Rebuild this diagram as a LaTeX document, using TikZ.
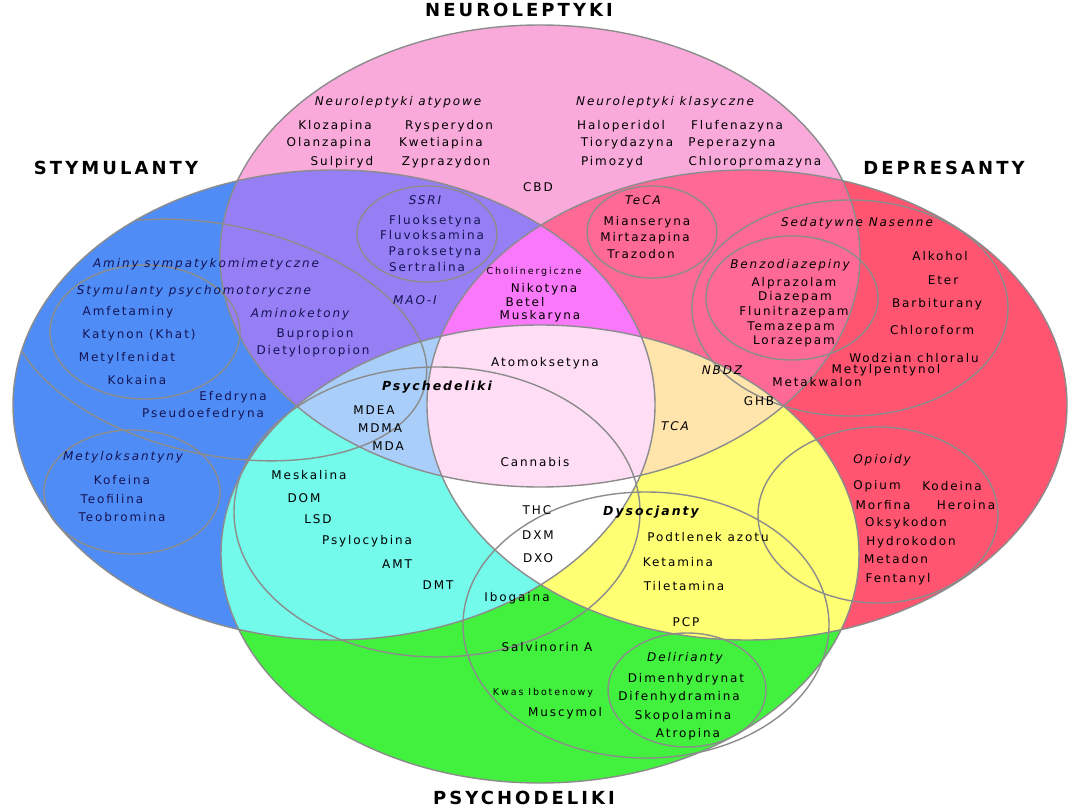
\documentclass[tikz,border=0pt]{standalone}
\usepackage{fontspec}
\setmainfont{DejaVu Sans}[LetterSpace=16]
\newfontfamily\ttlfont{DejaVu Sans}[LetterSpace=17]
\newfontfamily\tinyfont{DejaVu Sans}[LetterSpace=20]
\definecolor{cN}{RGB}{249,170,219}
\definecolor{cS}{RGB}{80,140,245}
\definecolor{cD}{RGB}{255,85,112}
\definecolor{cP}{RGB}{66,240,62}
\definecolor{cNS}{RGB}{150,126,245}
\definecolor{cND}{RGB}{255,105,150}
\definecolor{cSP}{RGB}{115,250,235}
\definecolor{cDP}{RGB}{255,255,115}
\definecolor{cNSD}{RGB}{250,120,250}
\definecolor{cNSP}{RGB}{170,206,250}
\definecolor{cNDP}{RGB}{255,228,172}
\definecolor{cAll}{RGB}{255,222,245}
\definecolor{cLine}{RGB}{140,140,140}
\definecolor{navy}{RGB}{20,20,85}

\begin{document}
\begin{tikzpicture}[x=1pt,y=-1pt,line join=round,line cap=round,
	font=\fontsize{12}{13}\selectfont,
	every node/.style={inner sep=0pt},
	rN/.style={x radius=320pt,y radius=231pt},
	rS/.style={x radius=321pt,y radius=235pt},
	rD/.style={x radius=320pt,y radius=235pt},
	rP/.style={x radius=319pt,y radius=229pt},
	ring/.style={draw=cLine,line width=1.4pt},
	ttl/.style={font=\ttlfont\bfseries\fontsize{18}{19}\selectfont},
	cat/.style={font=\fontsize{12}{13}\selectfont\itshape},
	bcat/.style={font=\fontsize{12.5}{13}\selectfont\bfseries\itshape},
	tiny/.style={font=\tinyfont\fontsize{9.5}{10}\selectfont},
	st/.style={text=navy}]
	\useasboundingbox (0,0) rectangle (1080,810);
	\fill[white] (0,0) rectangle (1080,810);
	\coordinate (N) at (540,256);
	\coordinate (S) at (334,405);
	\coordinate (D) at (747,405);
	\coordinate (P) at (540,554);
	\fill[cN] (N) ellipse[rN];
	\fill[cS] (S) ellipse[rS];
	\fill[cD] (D) ellipse[rD];
	\fill[cP] (P) ellipse[rP];
	\begin{scope}
		\clip (N) ellipse[rN];
		\fill[cNS] (S) ellipse[rS];
		\fill[cND] (D) ellipse[rD];
	\end{scope}
	\begin{scope}
		\clip (P) ellipse[rP];
		\fill[cSP] (S) ellipse[rS];
		\fill[cDP] (D) ellipse[rD];
	\end{scope}
	\begin{scope}
		\clip (N) ellipse[rN];
		\clip (S) ellipse[rS];
		\fill[cNSD] (D) ellipse[rD];
		\fill[cNSP] (P) ellipse[rP];
	\end{scope}
	\begin{scope}
		\clip (N) ellipse[rN];
		\clip (D) ellipse[rD];
		\fill[cNDP] (P) ellipse[rP];
	\end{scope}
	\begin{scope}
		\clip (S) ellipse[rS];
		\clip (D) ellipse[rD];
		\fill[white] (P) ellipse[rP];
	\end{scope}
	\begin{scope}
		\clip (N) ellipse[rN];
		\clip (S) ellipse[rS];
		\clip (D) ellipse[rD];
		\fill[cAll] (P) ellipse[rP];
	\end{scope}
	\draw[ring] (N) ellipse[rN] (S) ellipse[rS] (D) ellipse[rD] (P) ellipse[rP];
	\coordinate (ssri) at (427,234);
	\coordinate (teca) at (652,232);
	\coordinate (sed) at (850,308);
	\coordinate (benzo) at (792,298);
	\coordinate (opio) at (878,515);
	\coordinate (dyso) at (646,625);
	\coordinate (deli) at (687,690);
	\coordinate (psy) at (437,512);
	\coordinate (mety) at (132,492);
	\coordinate (psm) at (145,332);
	\coordinate (amin) at (218,340);
	\draw[ring] (ssri) ellipse[x radius=70pt,y radius=48pt];
	\draw[ring] (teca) ellipse[x radius=65pt,y radius=46pt];
	\draw[ring] (sed) ellipse[x radius=158pt,y radius=108pt];
	\draw[ring] (benzo) ellipse[x radius=86pt,y radius=62pt];
	\draw[ring] (opio) ellipse[x radius=120pt,y radius=88pt];
	\draw[ring] (dyso) ellipse[x radius=183pt,y radius=133pt];
	\draw[ring] (deli) ellipse[x radius=79pt,y radius=57pt];
	\draw[ring] (psy) ellipse[x radius=203pt,y radius=145pt];
	\draw[ring] (mety) ellipse[x radius=88pt,y radius=62pt];
	\draw[ring] (psm) ellipse[x radius=95pt,y radius=67pt];
	\begin{scope}
		\clip (S) ellipse[rS];
		\draw[ring,rotate around={-12:(amin)}] (amin) ellipse[x radius=212pt,y radius=115pt];
	\end{scope}

	\node[ttl] (tN) at (519,10) {NEUROLEPTYKI};
	\node[ttl] (tS) at (116,168) {STYMULANTY};
	\node[ttl] (tD) at (944,168) {DEPRESANTY};
	\node[ttl] (tP) at (524,798) {PSYCHODELIKI};

	\node[cat] (atyp) at (398,102) {Neuroleptyki atypowe};
	\node (klo) at (335,126) {Klozapina};
	\node (ola) at (329,143) {Olanzapina};
	\node (sul) at (342,162) {Sulpiryd};
	\node (rys) at (449,126) {Rysperydon};
	\node (kwe) at (441,143) {Kwetiapina};
	\node (zyp) at (446,162) {Zyprazydon};
	\node[cat] (klas) at (665,102) {Neuroleptyki klasyczne};
	\node (hal) at (621,126) {Haloperidol};
	\node (tio) at (627,143) {Tiorydazyna};
	\node (pim) at (612,162) {Pimozyd};
	\node (flu) at (737,126) {Flufenazyna};
	\node (pep) at (732,143) {Peperazyna};
	\node (chp) at (755,162) {Chloropromazyna};
	\node (cbd) at (538,187) {CBD};

	\node[cat,st] (ssriL) at (425,200) {SSRI};
	\node[st] (fluo) at (435,221) {Fluoksetyna};
	\node[st] (fluv) at (432,235) {Fluvoksamina};
	\node[st] (par) at (435,252) {Paroksetyna};
	\node[st] (ser) at (427,267) {Sertralina};
	\node[cat,st] (mao) at (415,300) {MAO-I};
	\node[cat] (tecaL) at (643,200) {TeCA};
	\node (mia) at (647,222) {Mianseryna};
	\node (mir) at (645,238) {Mirtazapina};
	\node (tra) at (641,254) {Trazodon};
	\node[tiny] (chol) at (534,272) {Cholinergiczne};
	\node (nik) at (544,289) {Nikotyna};
	\node (bet) at (525,302) {Betel};
	\node (mus) at (540,316) {Muskaryna};

	\node[cat,st] (aminL) at (206,264) {Aminy sympatykomimetyczne};
	\node[cat,st] (psmL) at (194,291) {Stymulanty psychomotoryczne};
	\node[st] (amf) at (128,312) {Amfetaminy};
	\node[st] (kat) at (139,335) {Katynon (Khat)};
	\node[st] (mfd) at (127,358) {Metylfenidat};
	\node[st] (kok) at (137,380) {Kokaina};
	\node[st] (efe) at (233,397) {Efedryna};
	\node[st] (pse) at (203,414) {Pseudoefedryna};
	\node[cat,st] (amk) at (300,314) {Aminoketony};
	\node[st] (bup) at (315,334) {Bupropion};
	\node[st] (die) at (313,351) {Dietylopropion};
	\node[cat,st] (metyL) at (123,457) {Metyloksantyny};
	\node[st] (kof) at (122,480) {Kofeina};
	\node[st] (teo) at (112,499) {Teofilina};
	\node[st] (teb) at (122,517) {Teobromina};

	\node[bcat] (psyL) at (437,387) {Psychedeliki};
	\node (mdea) at (374,410) {MDEA};
	\node (mdma) at (380,428) {MDMA};
	\node (mda) at (388,446) {MDA};
	\node (ato) at (545,363) {Atomoksetyna};
	\node (can) at (535,462) {Cannabis};
	\node[cat] (tca) at (675,426) {TCA};
	\node[cat] (nbdz) at (722,370) {NBDZ};
	\node (ghb) at (759,401) {GHB};
	\node (thc) at (537,510) {THC};
	\node (dxm) at (538,535) {DXM};
	\node (dxo) at (538,558) {DXO};
	\node (mes) at (309,475) {Meskalina};
	\node (dom) at (304,498) {DOM};
	\node (lsd) at (318,519) {LSD};
	\node (psi) at (367,541) {Psylocybina};
	\node (amt) at (397,564) {AMT};
	\node (dmt) at (438,585) {DMT};

	\node[cat] (sedL) at (857,223) {Sedatywne Nasenne};
	\node[cat] (benzoL) at (790,265) {Benzodiazepiny};
	\node (alp) at (794,283) {Alprazolam};
	\node (dia) at (795,297) {Diazepam};
	\node (fln) at (794,312) {Flunitrazepam};
	\node (tem) at (791,327) {Temazepam};
	\node (lor) at (794,341) {Lorazepam};
	\node (alk) at (940,256) {Alkohol};
	\node (ete) at (943,280) {Eter};
	\node (bar) at (937,304) {Barbiturany};
	\node (chf) at (932,330) {Chloroform};
	\node (wod) at (914,358) {Wodzian chloralu};
	\node (mpt) at (886,370) {Metylpentynol};
	\node (mkw) at (817,382) {Metakwalon};
	\node[cat] (opioL) at (882,460) {Opioidy};
	\node (opi) at (877,486) {Opium};
	\node (kod) at (952,486) {Kodeina};
	\node (mor) at (883,505) {Morfina};
	\node (her) at (966,505) {Heroina};
	\node (oks) at (906,523) {Oksykodon};
	\node (hyd) at (911,542) {Hydrokodon};
	\node (mtd) at (896,559) {Metadon};
	\node (fen) at (898,579) {Fentanyl};

	\node[bcat] (dysoL) at (651,512) {Dysocjanty};
	\node (pod) at (708,537) {Podtlenek azotu};
	\node (ket) at (678,562) {Ketamina};
	\node (til) at (684,586) {Tiletamina};
	\node (pcp) at (686,622) {PCP};
	\node (ibo) at (517,598) {Ibogaina};
	\node (sal) at (547,647) {Salvinorin A};
	\node[tiny] (kwas) at (543,693) {Kwas Ibotenowy};
	\node (msc) at (565,713) {Muscymol};
	\node[cat] (deliL) at (685,658) {Delirianty};
	\node (dim) at (686,679) {Dimenhydrynat};
	\node (dif) at (679,697) {Difenhydramina};
	\node (sko) at (683,716) {Skopolamina};
	\node (atr) at (688,734) {Atropina};
\end{tikzpicture}
\end{document}
